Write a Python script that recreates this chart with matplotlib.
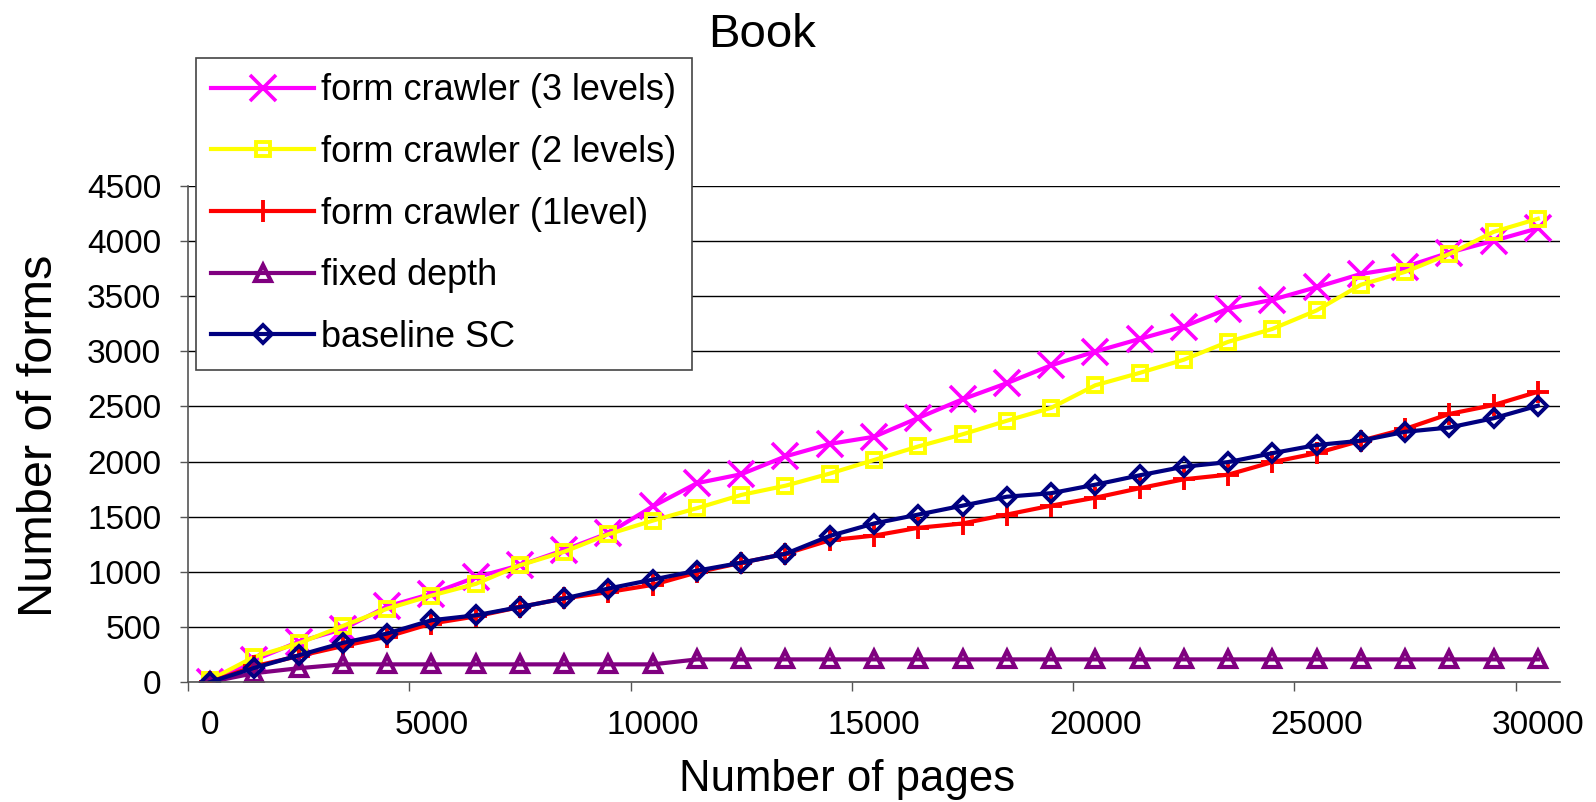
import matplotlib
matplotlib.use("Agg")
import matplotlib.pyplot as plt
from matplotlib.ticker import FixedLocator, NullFormatter

plt.rcParams['font.family'] = ['Liberation Sans', 'DejaVu Sans']

# categories (number of pages)
pages = [0, 1000, 2000, 3000, 4000, 5000, 6000, 7000, 8000, 9000, 10000,
         11000, 12000, 13000, 14000, 15000, 16000, 17000, 18000, 19000, 20000,
         21000, 22000, 23000, 24000, 25000, 26000, 27000, 28000, 29000, 30000]

crawler_3 = [0, 200, 365, 480, 686, 800, 950, 1059, 1198, 1350, 1593,
             1804, 1885, 2047, 2160, 2225, 2396, 2565, 2711, 2873, 2998,
             3112, 3225, 3387, 3468, 3582, 3702, 3766, 3896, 4003, 4116]
crawler_2 = [20, 229, 350, 509, 665, 784, 890, 1059, 1182, 1341, 1464,
             1577, 1697, 1781, 1891, 2014, 2137, 2247, 2370, 2487, 2692,
             2804, 2924, 3086, 3203, 3371, 3604, 3721, 3883, 4084, 4203]
crawler_1 = [0, 143, 235, 326, 411, 530, 595, 680, 758, 816, 881,
             994, 1082, 1163, 1286, 1328, 1399, 1438, 1519, 1600, 1672,
             1758, 1839, 1881, 1995, 2076, 2189, 2296, 2432, 2513, 2633]
fixed_depth = [0, 80, 125, 160, 160, 160, 160, 160, 160, 160, 160,
               205, 205, 205, 205, 205, 205, 205, 205, 205, 205,
               205, 205, 205, 205, 205, 205, 205, 205, 205, 205]
baseline_sc = [0, 128, 242, 355, 440, 560, 605, 680, 758, 848, 929,
               1010, 1082, 1163, 1325, 1438, 1519, 1600, 1681, 1713, 1790,
               1875, 1953, 1995, 2076, 2150, 2189, 2270, 2309, 2393, 2507]

labels = ['form crawler (3 levels)', 'form crawler (2 levels)',
          'form crawler (1level)', 'fixed depth', 'baseline SC']
x_ticks = [0, 5000, 10000, 15000, 20000, 25000, 30000]
y_ticks = [0, 500, 1000, 1500, 2000, 2500, 3000, 3500, 4000, 4500]

W, H = 1596, 802
fig = plt.figure(figsize=(W / 100, H / 100), dpi=100)
ax = fig.add_axes([188 / W, 1 - 682 / H, (1560 - 188) / W, (682 - 186) / H])

lw = 3.0
ax.plot(pages, crawler_3, color='#FF00FF', lw=lw, marker='x', ms=19, mew=2.6,
        label=labels[0])
ax.plot(pages, crawler_2, color='#FFFF00', lw=lw, marker='s', ms=9.5, mew=2.8,
        mfc='none', label=labels[1])
ax.plot(pages, crawler_1, color='#FF0000', lw=lw, marker='+', ms=16, mew=2.8,
        label=labels[2])
ax.plot(pages, fixed_depth, color='#800080', lw=lw, marker='^', ms=12, mew=3,
        mfc='none', label=labels[3])
ax.plot(pages, baseline_sc, color='#000080', lw=lw, marker='D', ms=9.5, mew=2.8,
        mfc='none', label=labels[4])

ax.set_xlim(-500, 30500)
ax.set_ylim(0, 4500)

ax.set_yticks(y_ticks)
ax.yaxis.grid(True, color='black', lw=1.0)
ax.set_axisbelow(True)
ax.tick_params(axis='y', direction='out', length=5.8, width=1, pad=13.5,
               labelsize=24, color='#555555')

# labels sit on categories, tick marks sit between categories
ax.set_xticks(x_ticks)
ax.xaxis.set_minor_locator(FixedLocator([t - 500 for t in x_ticks]))
ax.xaxis.set_minor_formatter(NullFormatter())
ax.tick_params(axis='x', which='major', length=0, pad=20, labelsize=24)
ax.tick_params(axis='x', which='minor', direction='out', length=6.5, width=1,
               color='#555555')

for s in ['top', 'right']:
    ax.spines[s].set_visible(False)
for s in ['left', 'bottom']:
    ax.spines[s].set_color('#555555')
    ax.spines[s].set_linewidth(1.2)

fig.text(762 / W, 1 - 46.7 / H, 'Book', ha='center', va='baseline', fontsize=34)
fig.text(847.5 / W, 1 - 791 / H, 'Number of pages', ha='center', va='baseline',
         fontsize=31.5)
fig.text(51.7 / W, 1 - 436 / H, 'Number of forms', ha='center', va='baseline',
         rotation=90, rotation_mode='anchor', fontsize=35)

leg = ax.legend(loc='upper left', bbox_to_anchor=(196 / W, 1 - 58 / H),
                bbox_transform=fig.transFigure, borderaxespad=0, fontsize=26,
                frameon=True, fancybox=False, shadow=False, borderpad=0.42,
                labelspacing=0.74, handlelength=2.85, handletextpad=0.2)
leg.get_frame().set_edgecolor('#444444')
leg.get_frame().set_linewidth(1.2)
leg.get_frame().set_alpha(1)

fig.savefig('out.png', dpi=100)
